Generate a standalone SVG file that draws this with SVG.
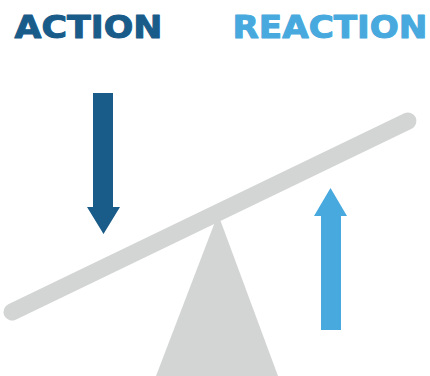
<svg xmlns="http://www.w3.org/2000/svg" width="430" height="376" viewBox="0 0 430 376">
<style>
.t{font-family:"DejaVu Sans","Liberation Sans",sans-serif;font-weight:bold;font-size:31.5px;stroke-width:1;stroke-linejoin:round}
.gray{fill:#d3d4d4}
</style>
<rect width="430" height="376" fill="#ffffff"/>
<g id="label-action"><text class="t" x="14.5" y="38" fill="#195b89" stroke="#195b89" textLength="148" lengthAdjust="spacingAndGlyphs">ACTION</text></g>
<g id="label-reaction"><text class="t" x="232.5" y="38" fill="#47a9dd" stroke="#47a9dd" textLength="195" lengthAdjust="spacingAndGlyphs">REACTION</text></g>
<g id="seesaw">
<polygon class="gray" points="218,214 278,376 156,376"/>
<line x1="12" y1="312" x2="408" y2="121" stroke="#d3d4d4" stroke-width="17" stroke-linecap="round"/>
</g>
<g id="arrow-action"><polygon fill="#195b89" points="93,93 113,93 113,207 120,207 103.5,234 87,207 93,207"/></g>
<g id="arrow-reaction"><polygon fill="#47a9dd" points="321,330 341,330 341,216 347,216 330.5,188 314,216 321,216"/></g>
</svg>
